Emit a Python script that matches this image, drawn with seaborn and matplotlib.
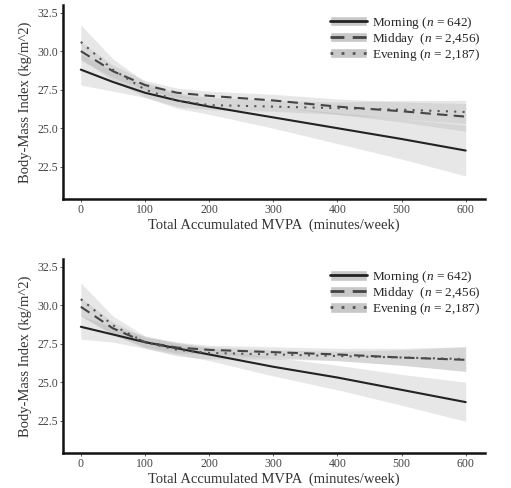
import pandas as pd
import numpy as np
import matplotlib
matplotlib.use('Agg')
import matplotlib.pyplot as plt
import seaborn as sns
from matplotlib.patches import Patch
from matplotlib.lines import Line2D
from matplotlib.legend_handler import HandlerTuple

mvpa = [0, 50, 100, 150, 200, 300, 400, 500, 600]
groups = ['Morning', 'Midday', 'Evening']
labels = ['Morning ($n$ = 642)', 'Midday  ($n$ = 2,456)', 'Evening ($n$ = 2,187)']

# top panel
top_morning = [28.8, 28.0, 27.3, 26.8, 26.4, 25.7, 25.0, 24.3, 23.55]
top_morning_lo = [27.8, 27.4, 27.0, 26.3, 25.9, 25.0, 24.0, 23.0, 21.9]
top_morning_hi = [29.8, 28.7, 27.8, 27.2, 26.8, 26.4, 26.0, 25.6, 25.2]
top_midday = [30.0, 28.7, 27.8, 27.3, 27.1, 26.8, 26.4, 26.1, 25.75]
top_midday_lo = [29.4, 28.3, 27.5, 27.0, 26.8, 26.4, 25.9, 25.4, 24.8]
top_midday_hi = [30.6, 29.1, 28.1, 27.6, 27.4, 27.2, 26.9, 26.7, 26.6]
top_evening = [30.6, 28.8, 27.5, 26.8, 26.5, 26.4, 26.3, 26.2, 26.05]
top_evening_lo = [29.5, 28.1, 27.0, 26.4, 26.2, 26.1, 25.9, 25.6, 25.3]
top_evening_hi = [31.7, 29.5, 28.0, 27.3, 27.0, 26.8, 26.7, 26.8, 26.8]

# bottom panel
bot_morning = [28.6, 28.1, 27.6, 27.2, 26.8, 26.0, 25.3, 24.5, 23.7]
bot_morning_lo = [27.8, 27.6, 27.2, 26.8, 26.4, 25.4, 24.5, 23.5, 22.45]
bot_morning_hi = [29.3, 28.6, 28.0, 27.6, 27.2, 26.6, 26.1, 25.5, 25.0]
bot_midday = [29.9, 28.5, 27.6, 27.25, 27.1, 26.95, 26.8, 26.6, 26.45]
bot_midday_lo = [29.3, 28.1, 27.3, 26.9, 26.8, 26.6, 26.4, 26.1, 25.7]
bot_midday_hi = [30.5, 28.9, 27.9, 27.6, 27.4, 27.3, 27.2, 27.2, 27.3]
bot_evening = [30.4, 28.7, 27.6, 27.1, 26.9, 26.8, 26.7, 26.6, 26.5]
bot_evening_lo = [29.3, 28.1, 27.2, 26.7, 26.5, 26.5, 26.4, 26.1, 25.7]
bot_evening_hi = [31.45, 29.3, 28.0, 27.5, 27.3, 27.1, 27.0, 27.1, 27.3]

colors = {'Morning': '#222222', 'Midday': '#444444', 'Evening': '#555555'}
dashes = {'Morning': '', 'Midday': (5, 3), 'Evening': (1, 3)}

panels = [
    (top_morning, top_morning_lo, top_morning_hi, top_midday, top_midday_lo, top_midday_hi,
     top_evening, top_evening_lo, top_evening_hi),
    (bot_morning, bot_morning_lo, bot_morning_hi, bot_midday, bot_midday_lo, bot_midday_hi,
     bot_evening, bot_evening_lo, bot_evening_hi),
]

sns.set_style('white')
plt.rcParams['font.family'] = ['Liberation Serif', 'DejaVu Serif']
plt.rcParams['mathtext.fontset'] = 'custom'
plt.rcParams['mathtext.rm'] = 'Liberation Serif'
plt.rcParams['mathtext.it'] = 'Liberation Serif:italic'

fig = plt.figure(figsize=(5.11, 4.88), dpi=100)
ax_pos = [[0.123, 0.592, 0.826, 0.398], [0.123, 0.072, 0.826, 0.397]]

for pos, vals in zip(ax_pos, panels):
    ax = fig.add_axes(pos)
    rows = []
    for i, g in enumerate(groups):
        mean, lo, hi = vals[3 * i], vals[3 * i + 1], vals[3 * i + 2]
        ax.fill_between(mvpa, lo, hi, color='#aaaaaa', alpha=0.28, linewidth=0)
        for x, y in zip(mvpa, mean):
            rows.append({'MVPA': x, 'BMI': y, 'Group': g})
    df = pd.DataFrame(rows)
    sns.lineplot(data=df, x='MVPA', y='BMI', hue='Group', style='Group',
                 palette=colors, dashes=dashes, linewidth=1.5, ax=ax, legend=False)

    ax.set_xlim(-28, 630)
    ax.set_ylim(20.4, 33.0)
    ax.set_xticks([0, 100, 200, 300, 400, 500, 600])
    ax.set_yticks([22.5, 25.0, 27.5, 30.0, 32.5])
    ax.set_yticklabels(['22.5', '25.0', '27.5', '30.0', '32.5'])
    ax.tick_params(axis='both', labelsize=8.5, colors='#444444', length=2,
                   width=0.6, pad=1.5, direction='out', left=True, bottom=True)
    ax.set_xlabel('Total Accumulated MVPA  (minutes/week)', fontsize=10.5,
                  color='#333333', labelpad=2)
    ax.set_ylabel('Body-Mass Index (kg/m^2)', fontsize=10.5, color='#333333',
                  labelpad=4)
    for s in ['top', 'right']:
        ax.spines[s].set_visible(False)
    for s in ['left', 'bottom']:
        ax.spines[s].set_linewidth(1.8)
        ax.spines[s].set_color('#111111')

    handles = []
    for g in groups:
        ln = Line2D([], [], color=colors[g], linewidth=2.0)
        if dashes[g]:
            ln.set_dashes(dashes[g])
        handles.append((Patch(facecolor='#c8c8c8', edgecolor='white', linewidth=1), ln))
    ax.legend(handles, labels, handler_map={tuple: HandlerTuple(ndivide=1, pad=0)},
              loc='upper left', bbox_to_anchor=(0.633, 0.95), fontsize=9.5,
              frameon=False, handlelength=2.8, handleheight=0.85,
              labelspacing=0.0, handletextpad=0.4, borderaxespad=0, borderpad=0)

fig.savefig('out.png', dpi=100)
